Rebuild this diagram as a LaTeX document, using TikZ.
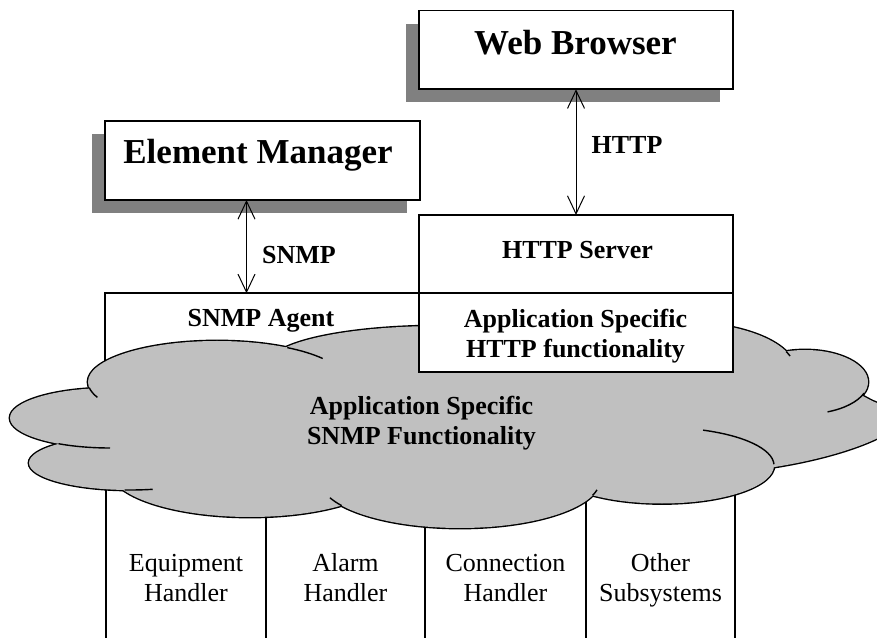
\documentclass[tikz,border=0pt]{standalone}
\usepackage{fontspec}
\setmainfont{Liberation Serif}
\usetikzlibrary{arrows.meta}
\definecolor{shadowgray}{RGB}{128,128,128}
\definecolor{cloudgray}{RGB}{192,192,192}

% Lobes of the cloud; the argument is the path style (outline pass or fill pass)
\newcommand\cloudlobes[1]{%
  \path[#1] (217,255) ellipse [x radius=129pt, y radius=41pt];
  \path[#1] (110,219) ellipse [x radius=100pt, y radius=30pt];
  \path[#1] (130,174) ellipse [x radius=101pt, y radius=27pt];
  \path[#1] (250,167) ellipse [x radius=140pt, y radius=47pt];
  \path[#1] (460,157) ellipse [x radius=140pt, y radius=48pt];
  \path[#1] (662,171.5) ellipse [x radius=112pt, y radius=38pt];
  \path[#1] (745,166) .. controls (800,172) and (850,185) .. (880,200)
        .. controls (900,210) and (900,228) .. (877,234)
        .. controls (866,238) and (858,246) .. (842,248)
        -- (815,240) -- (740,190) -- cycle;
  \path[#1] (805,255) ellipse [x radius=63pt, y radius=32pt];
  \path[#1] (680,267) ellipse [x radius=115pt, y radius=48pt];
  \path[#1] (440,274) ellipse [x radius=170pt, y radius=37pt];
}

\begin{document}
\begin{tikzpicture}[x=1pt,y=1pt,
  box/.style={draw=black, line width=1.6pt, fill=white, inner sep=0pt, outer sep=0pt},
  shadowbox/.style={fill=shadowgray, draw=none, inner sep=0pt, outer sep=0pt},
  column/.style={draw=black, line width=1.5pt, inner sep=0pt, outer sep=0pt},
  titletext/.style={font=\bfseries\fontsize{35}{40}\selectfont, inner sep=0pt, anchor=base},
  boldtext/.style={font=\bfseries\fontsize{26}{30}\selectfont, inner sep=0pt, anchor=base},
  plaintext/.style={font=\fontsize{26}{30}\selectfont, inner sep=0pt, anchor=base},
  link/.style={line width=1pt, {Straight Barb[length=18pt,width=17pt]}-{Straight Barb[length=18pt,width=17pt]}},
  lobe/.style={draw=black, line width=2.8pt, line join=round},
  lobefill/.style={fill=cloudgray},
  hook/.style={draw=black, line width=1.4pt},
]
\useasboundingbox (0,0) rectangle (877,637);
\clip (0,0) rectangle (877,637);

% drop shadows and the two manager boxes
\node[shadowbox, minimum width=314pt, minimum height=78.6pt] (wbshadow) at (563,574) {};
\node[shadowbox, minimum width=315pt, minimum height=79pt] (emshadow) at (249.5,463.5) {};
\node[box, minimum width=314pt, minimum height=78.6pt] (wb) at (576,587) {};
\node[box, minimum width=315pt, minimum height=79pt] (em) at (262.5,476.5) {};

% agent box and subsystem columns, partly hidden by the cloud
\node[box, minimum width=314pt, minimum height=93.7pt] (agent) at (262,296.85) {};
\node[column, minimum width=160pt, minimum height=200pt] (col1) at (186,90) {};
\node[column, minimum width=159pt, minimum height=200pt] (col2) at (345.5,90) {};
\node[column, minimum width=161pt, minimum height=200pt] (col3) at (505.5,90) {};
\node[column, minimum width=149pt, minimum height=200pt] (col4) at (660.5,90) {};

% protocol links
\coordinate (snmpx) at (246.5,0);
\node[box, minimum width=314pt, minimum height=78.3pt] (server) at (576,382.85) {};
\draw[link] (em.south -| snmpx) -- (agent.north -| snmpx);
\draw[link] (wb.south) -- (server.north);

% cloud: thick outlines first, then the fill hides their inner halves
\cloudlobes{lobe}
\cloudlobes{lobefill}
\fill[cloudgray] (450,217) ellipse [x radius=330pt, y radius=70pt];
\fill[cloudgray] (760,215) ellipse [x radius=40pt, y radius=25pt];
% inner curls of the cloud outline
\draw[hook] (217,255) ++(188:129pt and 41pt) arc[start angle=188, end angle=202, x radius=129pt, y radius=41pt];
\draw[hook] (217,255) ++(35:129pt and 41pt) arc[start angle=35, end angle=57, x radius=129pt, y radius=41pt];
\draw[hook] (110,219) ++(239:100pt and 30pt) arc[start angle=239, end angle=270, x radius=100pt, y radius=30pt];
\draw[hook] (130,174) ++(267:101pt and 27pt) arc[start angle=267, end angle=283, x radius=101pt, y radius=27pt];
\draw[hook] (460,157) ++(201.7:140pt and 48pt) arc[start angle=201.7, end angle=212.3, x radius=140pt, y radius=48pt];
\draw[hook] (460,157) ++(341.3:140pt and 48pt) arc[start angle=341.3, end angle=348.1, x radius=140pt, y radius=48pt];
\draw[hook] (662,171.5) ++(2:112pt and 38pt) arc[start angle=2, end angle=68.5, x radius=112pt, y radius=38pt];
\draw[hook] (805,255) ++(291:63pt and 32pt) arc[start angle=291, end angle=339.5, x radius=63pt, y radius=32pt];
\draw[hook] (680,267) ++(16.9:115pt and 48pt) arc[start angle=16.9, end angle=22.6, x radius=115pt, y radius=48pt];

% HTTP side boxes sit on top of the cloud
\node[box, minimum width=314pt, minimum height=78.7pt] (httpfunc) at (576,304.35) {};
\draw[box, fill=none] (server.north west) rectangle (server.south east);

% texts (multi-line nodes are placed by the baseline of their last line)
\node[titletext] (wbtext) at (575.5,582) {Web Browser};
\node[titletext] (emtext) at (258,473) {Element Manager};
\node[boldtext] (httplabel) at (627,483) {HTTP};
\node[boldtext] (snmplabel) at (299,373) {SNMP};
\node[boldtext] (servertext) at (577.5,378) {HTTP Server};
\node[boldtext] (agenttext) at (261,310) {SNMP Agent};
\node[boldtext, align=center] (httpfunctext) at (575.5,279.5) {Application Specific\\HTTP functionality};
\node[boldtext, align=center] (snmpfunctext) at (421.5,192) {Application Specific\\SNMP Functionality};
\node[plaintext, align=center] (eqtext) at (186,35.3) {Equipment\\Handler};
\node[plaintext, align=center] (altext) at (345.5,35.3) {Alarm\\Handler};
\node[plaintext, align=center] (cotext) at (505.5,35.3) {Connection\\Handler};
\node[plaintext, align=center] (ottext) at (660.5,35.3) {Other\\Subsystems};
\end{tikzpicture}
\end{document}
